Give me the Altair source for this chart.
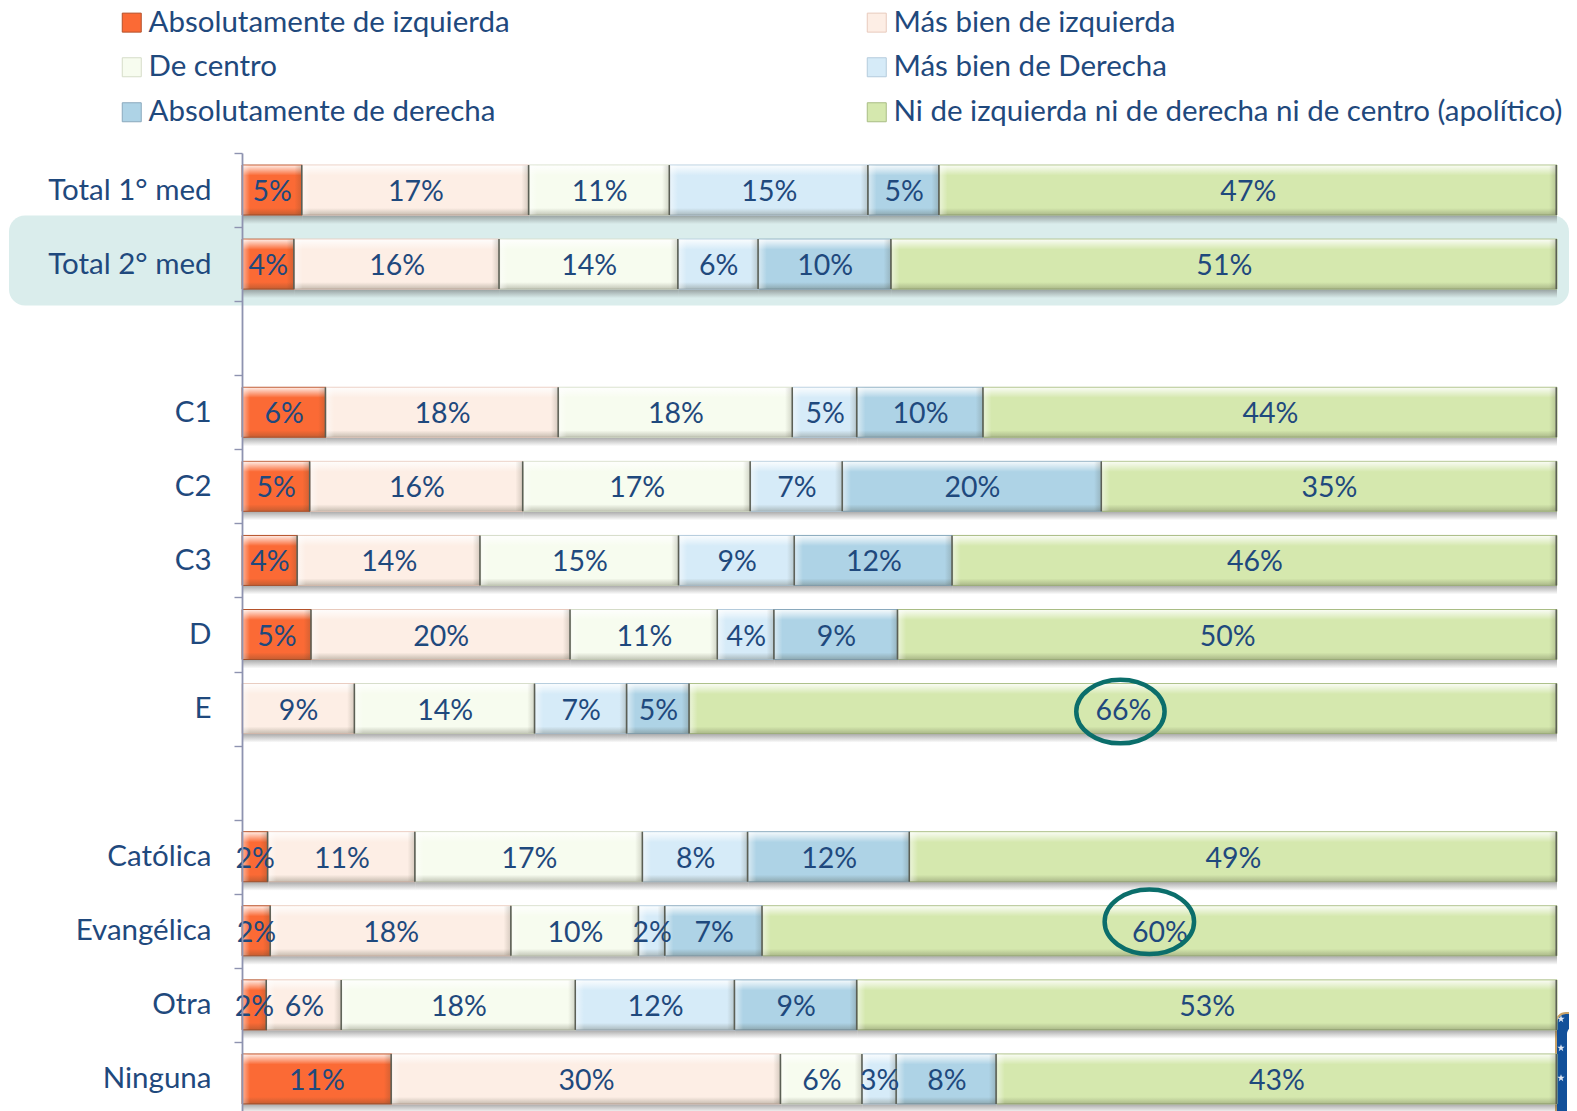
import altair as alt
import pandas as pd

FONT = "Lato"
INK = "#1f497d"

row_names = ["Total 1° med", "Total 2° med", " ", "C1", "C2", "C3", "D", "E", "  ",
             "Católica", "Evangélica", "Otra", "Ninguna"]
series_names = ["Absolutamente de izquierda", "Más bien de izquierda", "De centro",
                "Más bien de Derecha", "Absolutamente de derecha",
                "Ni de izquierda ni de derecha ni de centro (apolítico)"]
legend_names = ["Absolutamente de izquierda", "De centro", "Absolutamente de derecha",
                "Más bien de izquierda", "Más bien de Derecha",
                "Ni de izquierda ni de derecha ni de centro (apolítico)"]
legend_colors = ["#fb6a35", "#f7fcef", "#aed3e6", "#fdeee5", "#d6ebf8", "#d5e8ae"]
legend_edges = ["#b4522b", "#d5dcc8", "#8aa9bd", "#e8cabd", "#b4cbdc", "#a9bd85"]

abs_izq = {"Total 1° med": 4.6, "Total 2° med": 4.0, "C1": 6.4, "C2": 5.2, "C3": 4.25, "D": 5.3,
           "Católica": 2.0, "Evangélica": 2.2, "Otra": 1.9, "Ninguna": 11.4}
mas_izq = {"Total 1° med": 17.25, "Total 2° med": 15.6, "C1": 17.7, "C2": 16.2, "C3": 13.9, "D": 19.7, "E": 8.6,
           "Católica": 11.2, "Evangélica": 18.3, "Otra": 5.7, "Ninguna": 29.6}
centro = {"Total 1° med": 10.7, "Total 2° med": 13.6, "C1": 17.8, "C2": 17.3, "C3": 15.1, "D": 11.2, "E": 13.7,
          "Católica": 17.3, "Evangélica": 9.7, "Otra": 17.8, "Ninguna": 6.2}
mas_der = {"Total 1° med": 15.1, "Total 2° med": 6.1, "C1": 4.9, "C2": 7.0, "C3": 8.8, "D": 4.3, "E": 7.0,
           "Católica": 8.0, "Evangélica": 2.0, "Otra": 12.1, "Ninguna": 2.6}
abs_der = {"Total 1° med": 5.4, "Total 2° med": 10.1, "C1": 9.6, "C2": 19.7, "C3": 12.0, "D": 9.4, "E": 4.75,
           "Católica": 12.3, "Evangélica": 7.4, "Otra": 9.3, "Ninguna": 7.6}
apolitico = {"Total 1° med": 46.95, "Total 2° med": 50.6, "C1": 43.6, "C2": 34.6, "C3": 45.95, "D": 50.1, "E": 65.95,
             "Católica": 49.2, "Evangélica": 60.4, "Otra": 53.2, "Ninguna": 42.6}
series_values = [abs_izq, mas_izq, centro, mas_der, abs_der, apolitico]

records = []
for order, (name, values) in enumerate(zip(series_names, series_values)):
    for row, value in values.items():
        records.append({"row": row, "serie": name, "orden": order, "valor": value,
                        "etiqueta": f"{round(value)}%"})
df = pd.DataFrame(records)

rows_scale = alt.Scale(domain=row_names, range=[0, 963], paddingInner=0, paddingOuter=0)
x_scale = alt.Scale(domain=[0, 100], nice=False, zero=False)
Y = alt.Y("row:N", scale=rows_scale, title=None,
          axis=alt.Axis(orient="left", domainColor="#8e93b0", domainWidth=1.8, tickColor="#8e93b0",
                        tickWidth=1.4, tickSize=8, tickBand="extent", labelFont=FONT, labelFontSize=29.5,
                        labelColor=INK, labelPadding=23, grid=False, zindex=1, labelLimit=300))
X = alt.X("x0:Q", scale=x_scale, axis=None, title=None)
X_END = alt.X("x1:Q", scale=x_scale, axis=None, title=None)
X2 = alt.X2("x1:Q")


def grad(stops, horizontal=False):
    return alt.LinearGradient(
        gradient="linear",
        x1=0, y1=0, x2=1 if horizontal else 0, y2=0 if horizontal else 1,
        stops=[alt.GradientStop(color=c, offset=o) for c, o in stops],
    )


base = alt.Chart(df).transform_stack(
    stack="valor", groupby=["row"], sort=[alt.SortField("orden", order="ascending")], as_=["x0", "x1"]
).transform_calculate(mid="(datum.x0 + datum.x1) / 2")

# rounded highlight behind the second row
band = alt.Chart(pd.DataFrame({"row": ["Total 2° med"]})).mark_bar(
    size=90, yOffset=-3.5, color="#daedec", cornerRadius=16
).encode(y=Y, x=alt.value(-233), x2=alt.value(1327))

shadow = base.mark_bar(
    size=9, yOffset=29.5, fill=grad([("rgba(80,80,80,0.5)", 0), ("rgba(80,80,80,0)", 1)])
).encode(y=Y, x=X, x2=X2)

main = base.mark_bar(size=50, strokeWidth=1).encode(
    y=Y, x=X, x2=X2,
    fill=alt.Fill("serie:N", scale=alt.Scale(domain=legend_names, range=legend_colors), title=None,
                  legend=alt.Legend(orient="none", legendX=-125, legendY=-145.5, columns=2, columnPadding=352,
                                    rowPadding=14, symbolType="square", symbolSize=361, symbolStrokeWidth=1,
                                    symbolStrokeColor="#9aa39a", labelFont=FONT, labelFontSize=29.5, labelColor=INK,
                                    labelLimit=800, title=None, symbolOffset=0, labelOffset=2)),
    stroke=alt.Stroke("serie:N", scale=alt.Scale(domain=legend_names, range=legend_edges), legend=None),
)

top_bevel = base.mark_bar(
    size=10, yOffset=-19.5, fill=grad([("rgba(255,255,255,0.85)", 0), ("rgba(255,255,255,0)", 1)])
).encode(y=Y, x=X, x2=X2)
bottom_bevel = base.mark_bar(
    size=7, yOffset=21.5, fill=grad([("rgba(60,60,40,0)", 0), ("rgba(60,60,40,0.28)", 1)])
).encode(y=Y, x=X, x2=X2)
left_bevel = base.mark_bar(
    size=49, x2Offset=8, fill=grad([("rgba(255,255,255,0.5)", 0), ("rgba(255,255,255,0)", 1)], True)
).encode(y=Y, x=X, x2=alt.X2("x0:Q"))
right_bevel = base.mark_bar(
    size=49, xOffset=-8, fill=grad([("rgba(60,60,40,0)", 0), ("rgba(60,60,40,0.22)", 1)], True)
).encode(y=Y, x=X_END, x2=X2)
right_edge = base.mark_bar(size=50, xOffset=-1.5, fill="#5b5f55").encode(y=Y, x=X_END, x2=X2)

labels = base.mark_text(font=FONT, fontSize=28.5, color=INK, baseline="middle", dy=2).encode(
    y=Y, x=alt.X("mid:Q", scale=x_scale, axis=None, title=None), text="etiqueta:N"
)

ring_path = "M-1,0 A1,0.72 0 1 1 1,0 A1,0.72 0 1 1 -1,0 Z"
ring_e = alt.Chart(pd.DataFrame({"row": ["E"], "pos": [66.8]})).mark_point(
    shape=ring_path, size=7800, filled=False, stroke="#0b6e6b", strokeWidth=4.5, opacity=1, yOffset=3
).encode(y=Y, x=alt.X("pos:Q", scale=x_scale, axis=None, title=None))
ring_ev = alt.Chart(pd.DataFrame({"row": ["Evangélica"], "pos": [69.0]})).mark_point(
    shape=ring_path, size=8000, filled=False, stroke="#0b6e6b", strokeWidth=4.5, opacity=1, yOffset=-9
).encode(y=Y, x=alt.X("pos:Q", scale=x_scale, axis=None, title=None))

# corner of the university crest that the slide's chart overlaps
crest_blue = alt.Chart(pd.DataFrame({"a": [0]})).mark_rect(
    color="#12509a", stroke="#c9a36a", strokeWidth=2, cornerRadius=10
).encode(x=alt.value(1314), x2=alt.value(1345), y=alt.value(860), y2=alt.value(1000))
crest_white = alt.Chart(pd.DataFrame({"a": [0]})).mark_rect(
    color="white", cornerRadius=8
).encode(x=alt.value(1325), x2=alt.value(1345), y=alt.value(873), y2=alt.value(1000))
star = "M0,-1 L0.24,-0.31 L0.95,-0.31 L0.38,0.12 L0.59,0.81 L0,0.4 L-0.59,0.81 L-0.38,0.12 L-0.95,-0.31 L-0.24,-0.31 Z"
crest_stars = alt.Chart(pd.DataFrame({"px": [1319, 1319, 1319], "py": [866, 895, 925]})).mark_point(
    shape=star, size=60, filled=True, color="#dfe6f2", opacity=1
).encode(x=alt.X("px:Q", scale=None), y=alt.Y("py:Q", scale=None))

chart = alt.layer(
    band, crest_blue, crest_white, crest_stars, shadow, main, top_bevel, bottom_bevel, left_bevel, right_bevel,
    right_edge, labels, ring_e, ring_ev
).properties(
    width=1315, height=958, padding={"left": 234, "top": 145, "right": 12, "bottom": 0},
    autosize=alt.AutoSizeParams(type="none"),
).configure_view(stroke=None)

chart.save("out.html", embed_options={"renderer": "svg", "actions": False})
